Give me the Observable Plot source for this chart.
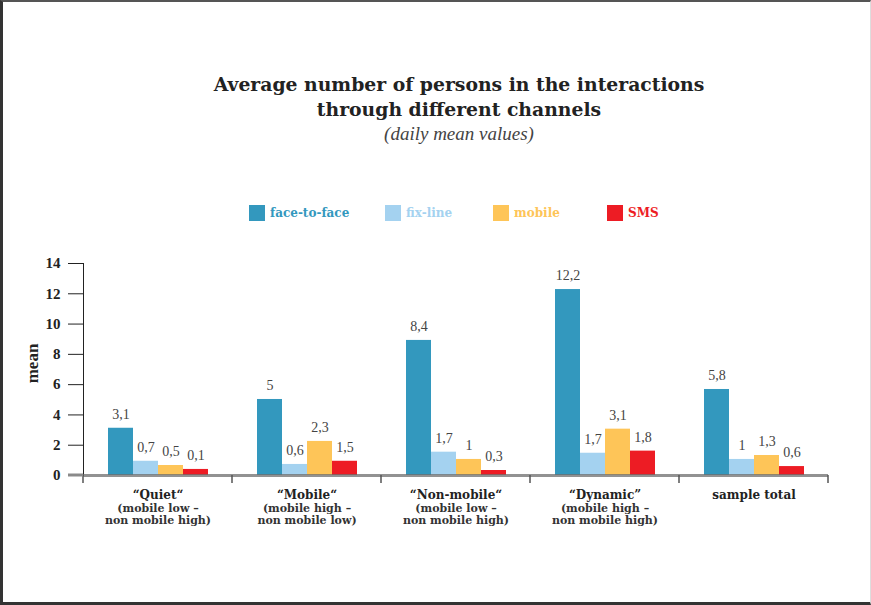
<!DOCTYPE html>
<html>
<head>
<meta charset="utf-8">
<script src="https://cdn.jsdelivr.net/npm/d3@7"></script>
<script src="https://cdn.jsdelivr.net/npm/@observablehq/plot@0.6"></script>
<style>
  html, body { margin: 0; padding: 0; background: #fff; }
  #page { position: relative; width: 871px; height: 605px; overflow: hidden; font-family: "Liberation Serif", serif; }
  #border { position: absolute; left: 0; top: 0; width: 871px; height: 605px; box-sizing: border-box;
            border-left: 3px solid #333; border-top: 2px solid #555; border-bottom: 3px solid #333; border-right: 1px solid #ddd; pointer-events: none; }
  #title { position: absolute; left: 160px; width: 598px; top: 72px; text-align: center; font-family: "DejaVu Serif", serif; font-weight: bold; font-size: 18.8px; line-height: 25px; color: #222; }
  #subtitle { position: absolute; left: 160px; width: 598px; top: 124px; text-align: center; font-style: italic; font-size: 19px; line-height: 20px; color: #444; }
  .leg { position: absolute; top: 204px; height: 18px; font-family: "DejaVu Serif", serif; font-weight: bold; font-size: 12px; line-height: 18px; white-space: nowrap; }
  .leg span.sw { position: absolute; left: 0; top: 1px; width: 16px; height: 16px; }
  .leg span.lb { position: absolute; left: 21px; top: 0; }
  #chart { position: absolute; left: 0; top: 250px; }
  #chart g[aria-label^="y-axis"] text { font-weight: bold; font-size: 15px; fill: #222; }
</style>
</head>
<body>
<div id="page">
  <div id="title"></div>
  <div id="subtitle"></div>
  <div id="legend"></div>
  <div id="chart"></div>
  <div id="border"></div>
</div>
<script>
const titleLines = ["Average number of persons in the interactions", "through different channels"];
const subtitle = "(daily mean values)";
const groups = ["Quiet", "Mobile", "Non-mobile", "Dynamic", "sample total"];
const groupLabels = ["\u201cQuiet\u201c", "\u201cMobile\u201c", "\u201cNon-mobile\u201c", "\u201cDynamic\u201d", "sample total"];
const groupSubLabels = ["(mobile low \u2013\nnon mobile high)", "(mobile high \u2013\nnon mobile low)", "(mobile low \u2013\nnon mobile high)", "(mobile high \u2013\nnon mobile high)", ""];
const channels = ["face-to-face", "fix-line", "mobile", "SMS"];
const colors = ["#3398be", "#a4d2f0", "#fec558", "#ed1c24"];
// bar heights as drawn
const faceToFace = [3.12, 5.02, 8.92, 12.28, 5.68];
const fixLine = [0.94, 0.73, 1.54, 1.47, 1.06];
const mobile = [0.66, 2.25, 1.06, 3.06, 1.32];
const sms = [0.40, 0.94, 0.33, 1.61, 0.59];
// printed value labels
const faceToFaceLabels = ["3,1", "5", "8,4", "12,2", "5,8"];
const fixLineLabels = ["0,7", "0,6", "1,7", "1,7", "1"];
const mobileLabels = ["0,5", "2,3", "1", "3,1", "1,3"];
const smsLabels = ["0,1", "1,5", "0,3", "1,8", "0,6"];
const yTicks = [0, 2, 4, 6, 8, 10, 12, 14];
const yLabel = "mean";

const series = [faceToFace, fixLine, mobile, sms];
const seriesLabels = [faceToFaceLabels, fixLineLabels, mobileLabels, smsLabels];
const data = [];
groups.forEach((g, i) => channels.forEach((c, j) => data.push({group: g, channel: c, value: series[j][i], label: seriesLabels[j][i]})));
const groupData = groups.map((g, i) => ({group: g, main: groupLabels[i], sub: groupSubLabels[i]}));

document.getElementById("title").innerHTML = titleLines.join("<br>");
document.getElementById("subtitle").textContent = subtitle;
const legendX = [249, 385, 493, 607];
const legend = document.getElementById("legend");
channels.forEach((c, j) => {
  const d = document.createElement("div");
  d.className = "leg";
  d.style.left = legendX[j] + "px";
  d.innerHTML = `<span class="sw" style="background:${colors[j]}"></span><span class="lb" style="color:${colors[j]}">${c}</span>`;
  legend.appendChild(d);
});

const tickSize = 15;
const plot = Plot.plot({
  width: 871,
  height: 300,
  marginTop: 13,
  marginBottom: 75,
  marginLeft: 81,
  marginRight: 41,
  style: {fontFamily: "Liberation Serif, serif", background: "transparent", overflow: "visible", color: "#222"},
  fx: {domain: groups, padding: 0, axis: null, label: null},
  x: {domain: channels, paddingInner: 0, paddingOuter: 0.9, axis: null, label: null},
  y: {domain: [0, 14], ticks: yTicks, tickSize: tickSize, tickPadding: 8, label: null, line: true, tickFormat: d => d},
  color: {domain: channels, range: colors},
  marks: [
    Plot.barY(data, {fx: "group", x: "channel", y: "value", fill: "channel"}),
    Plot.ruleY([0], {stroke: "#6e6e6e", strokeWidth: 3, strokeOpacity: 0.75}),
    Plot.text(data, {fx: "group", x: "channel", y: "value", text: "label", dy: -14, fontSize: 14, fill: "#444"}),
    Plot.text(groupData, {fx: "group", frameAnchor: "bottom", lineAnchor: "middle", text: "main", dy: 20, fontFamily: "DejaVu Serif, serif", fontSize: 12, fontWeight: "bold", fill: "#222"}),
    Plot.text(groupData, {fx: "group", frameAnchor: "bottom", lineAnchor: "middle", text: "sub", dy: 39, fontFamily: "DejaVu Serif, serif", fontSize: 11, lineHeight: 1.1, fontWeight: "bold", fill: "#333"}),
    Plot.text([yLabel], {fx: () => groups[0], frameAnchor: "left", textAnchor: "middle", lineAnchor: "middle", text: d => d, rotate: -90, dx: -51, dy: -6, fontSize: 17, fontWeight: "bold", fill: "#222"})
  ]
});
document.getElementById("chart").appendChild(plot);

// group dividers below the baseline, positioned by the plot's own fx and y scales
const fx = plot.scale("fx");
const ys = plot.scale("y");
const y0 = ys.apply(0);
const edges = groups.map(g => fx.apply(g));
edges.push(fx.apply(groups[groups.length - 1]) + fx.bandwidth);
const svg = d3.select(plot);
svg.append("g").attr("stroke", "#555").attr("stroke-width", 1.5)
  .selectAll("line").data(edges).join("line")
  .attr("x1", d => d).attr("x2", d => d).attr("y1", y0).attr("y2", y0 + 8);
// baseline continues through the zero tick
svg.append("line").attr("stroke", "#8a8a8a").attr("stroke-width", 3)
  .attr("x1", edges[0] - tickSize).attr("x2", edges[0]).attr("y1", y0).attr("y2", y0);
</script>
</body>
</html>
